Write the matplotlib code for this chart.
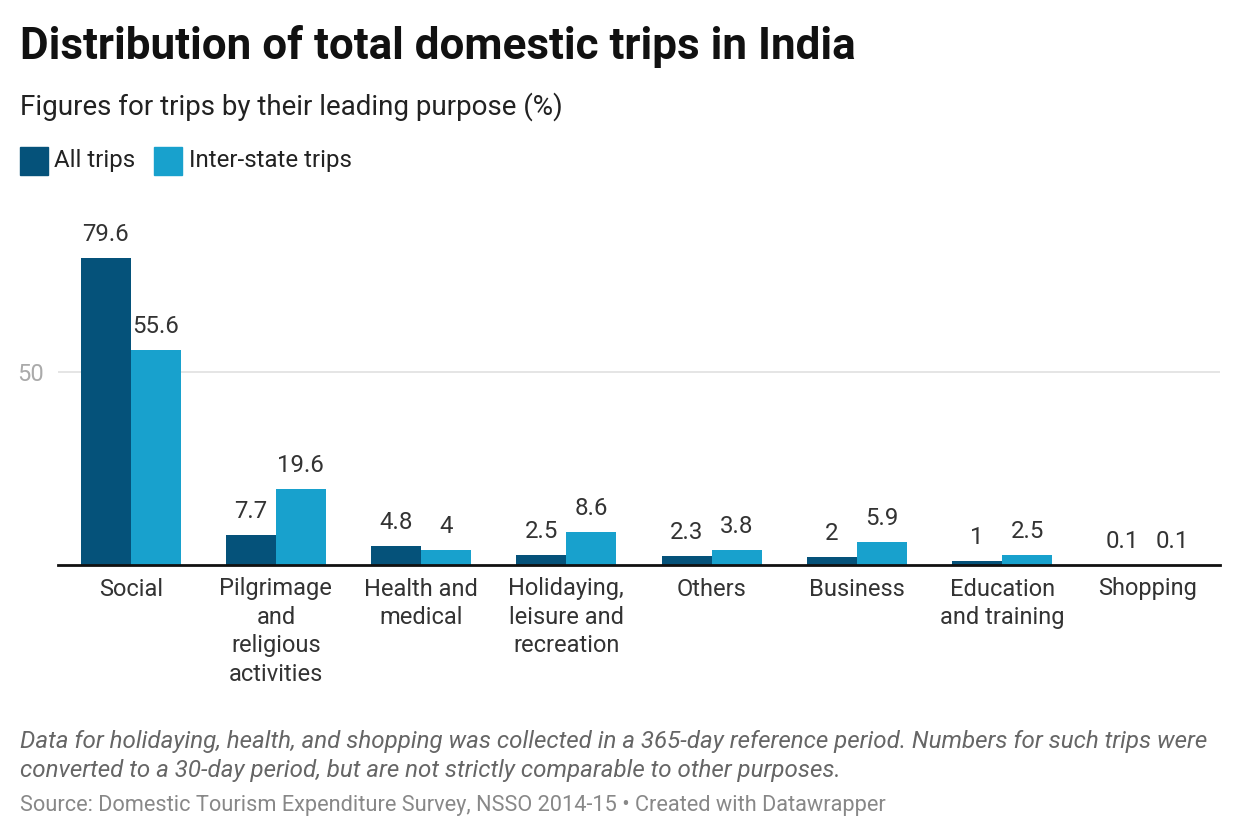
import matplotlib
matplotlib.use("Agg")
import matplotlib.pyplot as plt
import numpy as np

plt.rcParams['font.family'] = ['Roboto', 'DejaVu Sans']

categories = ["Social", "Pilgrimage\nand\nreligious\nactivities", "Health and\nmedical",
              "Holidaying,\nleisure and\nrecreation", "Others", "Business",
              "Education\nand training", "Shopping"]
all_trips = [79.6, 7.7, 4.8, 2.5, 2.3, 2, 1, 0.1]
inter_state = [55.6, 19.6, 4, 8.6, 3.8, 5.9, 2.5, 0.1]
series_names = ["All trips", "Inter-state trips"]

dark = "#05527a"
light = "#18a1cd"

fig = plt.figure(figsize=(12.4, 8.4), dpi=100)
ax = fig.add_axes([58 / 1240, 1 - 565 / 840, (1220 - 58) / 1240, (565 - 200) / 840])

x = np.arange(len(categories))
w = 0.345
b1 = ax.bar(x - w / 2, all_trips, w, color=dark)
b2 = ax.bar(x + w / 2, inter_state, w, color=light)

def fmt(v):
    return f"{v:g}"

for bars, vals in ((b1, all_trips), (b2, inter_state)):
    for bar, v in zip(bars, vals):
        ax.annotate(fmt(v), (bar.get_x() + bar.get_width() / 2, v),
                    xytext=(0, 12), textcoords="offset pixels",
                    ha="center", va="bottom", fontsize=17.3, color="#333333")

ax.set_xlim(-0.5, len(categories) - 0.5)
ax.set_ylim(0, 365 / 3.86)
ax.set_yticks([50])
ax.set_yticklabels(["50"])
ax.yaxis.grid(True, color="#e0e0e0", linewidth=1.2)
ax.set_axisbelow(True)
ax.tick_params(axis="y", length=0, labelsize=17, labelcolor="#aaaaaa", pad=10)
ax.set_xticks(x)
ax.set_xticklabels(categories, fontsize=17, color="#333333", linespacing=1.3)
ax.tick_params(axis="x", length=0, pad=9)
for s in ["top", "right", "left"]:
    ax.spines[s].set_visible(False)
ax.spines["bottom"].set_color("#111111")
ax.spines["bottom"].set_linewidth(2)

fig.text(20 / 1240, 1 - 46 / 840, "Distribution of total domestic trips in India",
         fontsize=31.7, fontweight="bold", color="#111111", va="center")
fig.text(20 / 1240, 1 - 107 / 840, "Figures for trips by their leading purpose (%)",
         fontsize=20, color="#222222", va="center")

# legend
fig.patches.append(plt.Rectangle((20 / 1240, 1 - 175 / 840), 28 / 1240, 28 / 840,
                                 transform=fig.transFigure, color=dark))
fig.text(54 / 1240, 1 - 161 / 840, series_names[0], fontsize=17.3, color="#222222", va="center")
fig.patches.append(plt.Rectangle((154 / 1240, 1 - 175 / 840), 28 / 1240, 28 / 840,
                                 transform=fig.transFigure, color=light))
fig.text(189 / 1240, 1 - 161 / 840, series_names[1], fontsize=17.3, color="#222222", va="center")

fig.text(20 / 1240, 1 - 756 / 840,
         "Data for holidaying, health, and shopping was collected in a 365-day reference period. Numbers for such trips were\n"
         "converted to a 30-day period, but are not strictly comparable to other purposes.",
         fontsize=17.4, style="italic", color="#666666", va="center", linespacing=1.38)
fig.text(20 / 1240, 1 - 806 / 840,
         "Source: Domestic Tourism Expenditure Survey, NSSO 2014-15 \u2022 Created with Datawrapper",
         fontsize=15.7, color="#888888", va="center")

fig.savefig("out.png", dpi=100)
